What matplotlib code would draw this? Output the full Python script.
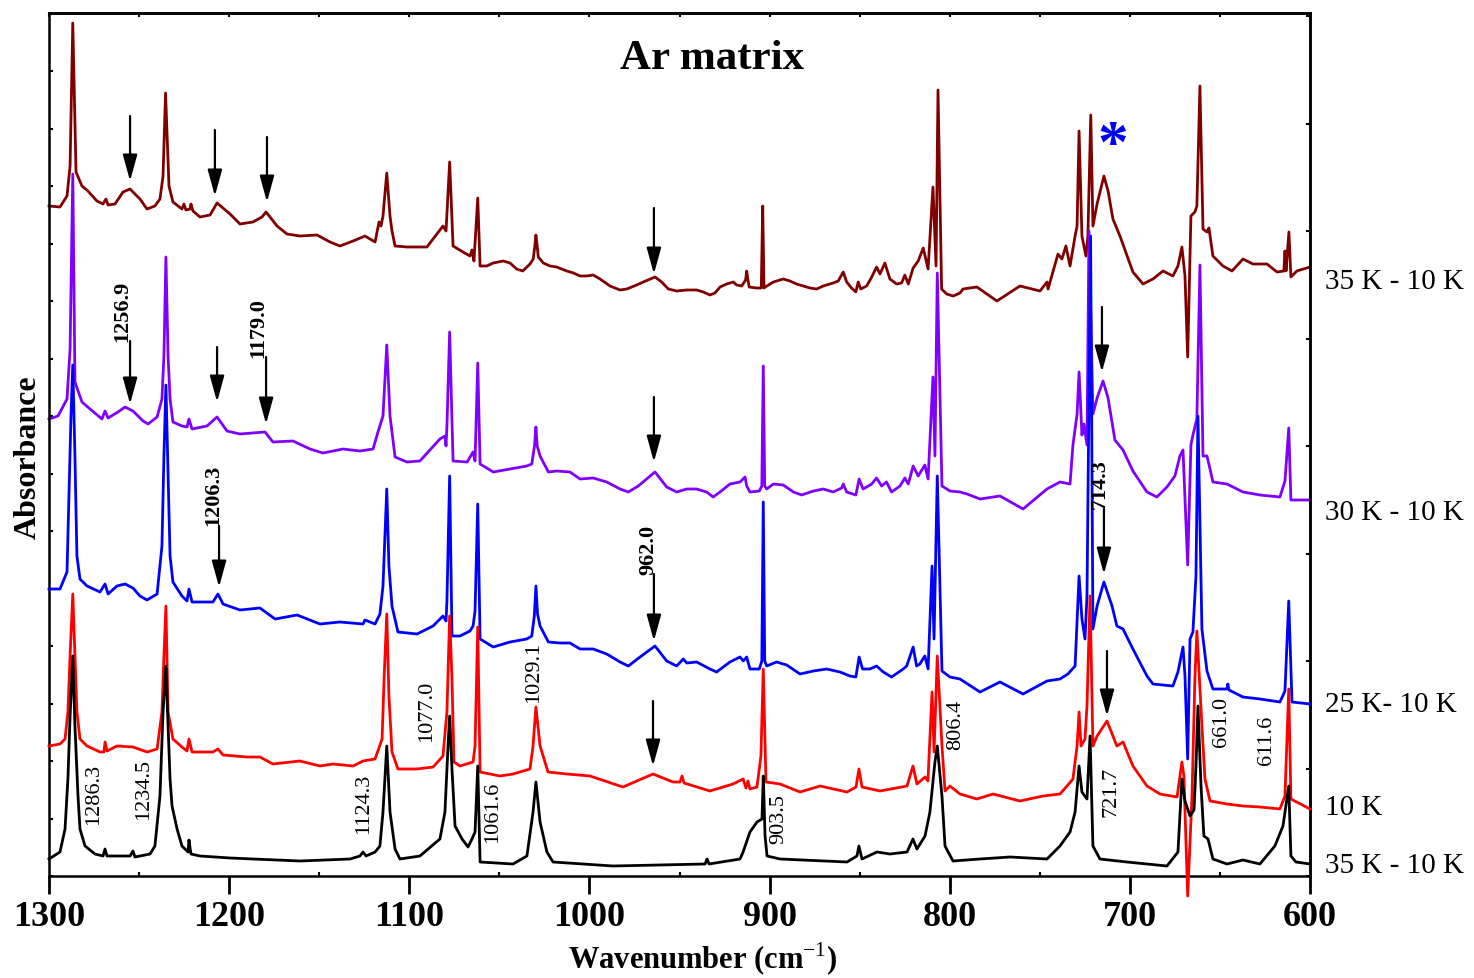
import numpy as np
import matplotlib
matplotlib.use("Agg")
import matplotlib.pyplot as plt

plt.rcParams['font.family'] = ['Liberation Serif', 'DejaVu Serif']
plt.rcParams['mathtext.fontset'] = 'custom'
plt.rcParams['mathtext.rm'] = 'Liberation Serif'
plt.rcParams['mathtext.bf'] = 'Liberation Serif:bold'

# spectra: (wavenumber cm-1, absorbance a.u.)
black = np.array([
    (1300.0, .017), (1293.9, .024), (1291.1, .047), (1289.5, .097), (1288.3, .160), (1286.8, .220),
    (1285.6, .150), (1283.9, .080), (1282.8, .047), (1280.0, .030), (1274.5, .022), (1270.0, .020),
    (1268.9, .027), (1267.8, .020), (1255.0, .020), (1253.4, .025), (1252.3, .019), (1243.9, .022),
    (1241.2, .030), (1238.4, .080), (1236.7, .164), (1235.1, .210), (1233.9, .150), (1232.8, .097),
    (1231.7, .070), (1228.9, .047), (1226.2, .030), (1222.8, .024), (1222.3, .036), (1221.2, .022),
    (1216.2, .020), (1199.5, .018), (1160.7, .015), (1132.9, .017), (1127.4, .020), (1125.7, .024),
    (1124.0, .020), (1119.0, .024), (1116.3, .030), (1114.6, .064), (1112.5, .130), (1110.7, .064),
    (1107.9, .027), (1105.2, .017), (1094.1, .020), (1083.0, .037), (1080.2, .064), (1078.5, .130),
    (1077.6, .160), (1076.3, .107), (1074.6, .050), (1070.7, .037), (1067.4, .029), (1065.2, .037),
    (1063.5, .044), (1062.0, .110), (1060.7, .014), (1042.4, .012), (1034.7, .020), (1031.3, .064),
    (1029.7, .094), (1027.4, .054), (1023.6, .024), (1020.2, .014), (986.9, .010), (935.8, .012),
    (934.7, .017), (933.6, .012), (916.4, .017), (914.7, .024), (910.9, .044), (907.0, .054),
    (904.2, .057), (903.5, .100), (902.5, .040), (901.4, .020), (894.2, .017), (857.0, .014),
    (851.5, .020), (850.4, .030), (848.7, .017), (840.4, .024), (833.2, .022), (823.7, .024),
    (820.4, .037), (818.2, .027), (813.7, .040), (811.0, .064), (808.2, .114), (806.9, .130),
    (804.3, .080), (802.6, .030), (798.2, .015), (783.2, .017), (766.5, .019), (746.0, .017),
    (738.8, .030), (733.2, .044), (730.4, .064), (728.2, .110), (726.6, .084), (723.8, .077),
    (722.1, .140), (720.5, .030), (716.6, .017), (701.6, .014), (679.4, .010), (673.3, .024),
    (671.1, .097), (669.4, .075), (666.6, .060), (664.4, .066), (663.3, .110), (662.2, .170),
    (660.5, .090), (658.9, .040), (656.6, .037), (653.9, .017), (646.1, .012), (637.2, .016),
    (627.8, .012), (619.5, .030), (615.0, .050), (611.8, .090), (610.6, .020), (607.8, .014),
    (600.0, .012)])

red = np.array([
    (1300.0, .130), (1293.9, .132), (1291.1, .137), (1289.5, .164), (1288.3, .220), (1286.8, .282),
    (1285.6, .220), (1284.5, .164), (1282.8, .137), (1278.9, .130), (1271.7, .124), (1269.5, .124),
    (1268.9, .134), (1267.8, .125), (1262.3, .130), (1253.4, .129), (1245.6, .124), (1240.0, .127),
    (1237.3, .164), (1236.2, .220), (1235.1, .270), (1233.9, .164), (1231.2, .137), (1226.2, .129),
    (1223.4, .125), (1222.3, .137), (1220.6, .124), (1209.0, .124), (1206.2, .127), (1203.4, .121),
    (1190.1, .119), (1182.9, .119), (1175.7, .112), (1160.7, .115), (1149.6, .110), (1142.4, .112),
    (1131.2, .110), (1125.7, .115), (1119.0, .117), (1115.1, .137), (1114.0, .197), (1112.5, .262),
    (1111.3, .180), (1109.6, .124), (1106.3, .107), (1095.7, .107), (1086.8, .109), (1081.3, .120),
    (1079.1, .164), (1077.6, .260), (1076.3, .197), (1075.2, .114), (1071.9, .110), (1064.6, .114),
    (1063.5, .130), (1062.0, .249), (1060.7, .104), (1049.6, .100), (1042.4, .102), (1033.0, .107),
    (1031.3, .130), (1029.7, .169), (1027.4, .130), (1023.0, .104), (1012.5, .102), (999.7, .100),
    (981.4, .089), (964.7, .102), (953.6, .094), (949.7, .094), (948.6, .100), (947.5, .093),
    (933.1, .085), (920.3, .092), (914.7, .097), (913.1, .088), (912.0, .095), (910.9, .087),
    (907.0, .089), (904.8, .120), (903.5, .207), (902.0, .094), (894.2, .092), (883.1, .084),
    (872.0, .090), (857.0, .084), (852.0, .089), (850.4, .107), (848.7, .089), (838.7, .085),
    (823.7, .090), (820.4, .110), (818.2, .092), (813.7, .099), (812.1, .095), (809.8, .184),
    (808.7, .124), (806.9, .220), (804.3, .130), (802.6, .085), (799.9, .090), (794.3, .082),
    (784.9, .077), (776.0, .082), (761.0, .075), (748.2, .080), (738.8, .082), (734.9, .090),
    (731.6, .097), (729.3, .130), (728.2, .164), (727.1, .130), (724.9, .137), (723.8, .170),
    (722.1, .280), (720.5, .130), (718.2, .140), (712.7, .155), (707.2, .130), (703.8, .134),
    (698.3, .110), (690.5, .090), (683.3, .082), (673.8, .079), (671.1, .114), (670.0, .100),
    (667.9, -.020), (665.5, .080), (663.9, .197), (662.8, .245), (660.0, .150), (658.3, .097),
    (655.5, .075), (646.1, .072), (637.2, .070), (627.8, .069), (616.7, .067), (613.9, .080),
    (611.8, .187), (610.6, .077), (600.0, .067)])

blue = np.array([
    (1300.0, .287), (1293.9, .287), (1290.0, .304), (1288.9, .380), (1287.8, .460), (1286.8, .511),
    (1285.6, .420), (1284.5, .320), (1282.8, .297), (1278.9, .290), (1271.7, .284), (1268.9, .292),
    (1267.2, .282), (1262.3, .290), (1257.8, .292), (1253.4, .288), (1249.5, .280), (1245.6, .276),
    (1240.0, .282), (1237.3, .330), (1236.2, .420), (1235.1, .491), (1233.9, .400), (1232.8, .320),
    (1231.2, .294), (1226.2, .280), (1223.4, .275), (1222.3, .287), (1220.6, .274), (1209.0, .274),
    (1206.2, .282), (1203.4, .272), (1194.0, .266), (1182.9, .268), (1174.5, .257), (1162.3, .261),
    (1149.6, .252), (1138.5, .254), (1125.7, .252), (1124.6, .256), (1119.0, .252), (1116.3, .262),
    (1114.6, .290), (1112.5, .387), (1111.3, .310), (1109.6, .270), (1106.3, .244), (1095.7, .242),
    (1086.8, .250), (1081.3, .260), (1079.6, .255), (1079.1, .275), (1077.6, .400), (1076.3, .240),
    (1071.9, .240), (1066.3, .245), (1064.6, .250), (1063.5, .265), (1062.0, .372), (1060.7, .237),
    (1053.4, .229), (1044.1, .234), (1034.8, .237), (1032.0, .240), (1030.6, .260), (1029.7, .290),
    (1028.8, .262), (1027.4, .250), (1022.8, .234), (1016.3, .233), (1010.8, .233), (1005.2, .227),
    (997.9, .227), (990.4, .222), (983.0, .214), (978.4, .210), (971.9, .219), (963.6, .230),
    (957.1, .215), (951.6, .210), (947.9, .217), (946.0, .213), (940.5, .214), (933.1, .207),
    (929.4, .204), (922.0, .214), (916.4, .219), (914.6, .215), (912.7, .219), (910.9, .207),
    (905.7, .207), (904.3, .215), (903.5, .374), (902.7, .215), (901.6, .210), (896.1, .214),
    (890.5, .211), (883.1, .202), (875.7, .205), (868.3, .207), (860.9, .204), (855.4, .200),
    (852.1, .199), (850.3, .219), (848.4, .207), (844.3, .207), (840.6, .210), (836.9, .204),
    (832.3, .199), (825.8, .207), (823.9, .210), (820.3, .229), (818.4, .210), (816.6, .212),
    (813.8, .220), (812.0, .207), (809.8, .310), (808.7, .237), (806.9, .400), (804.3, .205),
    (799.9, .199), (794.3, .197), (783.2, .184), (772.1, .194), (759.3, .182),
    (746.0, .195), (738.8, .197), (734.4, .202), (730.4, .210), (728.2, .300), (726.6, .257),
    (724.9, .237), (723.8, .280), (721.8, .640), (720.5, .247), (718.2, .270), (714.4, .294),
    (709.9, .270), (707.2, .250), (703.8, .247), (698.3, .227), (690.5, .200), (687.2, .192),
    (676.1, .190), (673.3, .204), (670.5, .229), (669.4, .200), (667.9, .117), (666.6, .237),
    (665.0, .244), (663.3, .300), (662.2, .460), (660.0, .247), (657.2, .205), (653.9, .187),
    (646.1, .187), (645.6, .192), (645.0, .186), (637.2, .179), (627.8, .177), (616.7, .174),
    (613.9, .185), (611.8, .275), (610.0, .174), (600.0, .172)])

purple = np.array([
    (1300.0, .457), (1295.0, .460), (1290.0, .477), (1288.3, .527), (1286.8, .702), (1285.6, .494),
    (1281.7, .474), (1277.2, .467), (1270.6, .457), (1268.9, .465), (1267.2, .458), (1261.7, .464),
    (1257.8, .469), (1253.4, .465), (1247.8, .455), (1245.0, .452), (1240.0, .459), (1237.3, .477),
    (1236.2, .520), (1235.1, .619), (1233.9, .520), (1232.8, .477), (1231.2, .454), (1226.2, .450),
    (1223.4, .449), (1222.3, .457), (1220.6, .447), (1212.3, .450), (1206.7, .459), (1201.2, .445),
    (1194.0, .442), (1180.1, .444), (1175.7, .434), (1164.6, .435), (1155.1, .427), (1147.9, .423),
    (1136.8, .427), (1127.4, .425), (1120.1, .427), (1117.4, .444), (1114.6, .460), (1112.5, .531),
    (1110.7, .460), (1107.9, .419), (1101.3, .414), (1094.1, .415), (1083.0, .437), (1080.2, .440),
    (1079.6, .430), (1079.1, .450), (1077.6, .544), (1075.7, .415), (1067.9, .414), (1064.6, .424),
    (1063.5, .415), (1062.0, .513), (1060.7, .412), (1053.4, .404), (1044.1, .407), (1034.8, .410),
    (1032.0, .412), (1030.5, .430), (1029.7, .449), (1029.0, .430), (1027.4, .420), (1022.8, .404),
    (1018.2, .405), (1010.8, .404), (1005.2, .397), (997.9, .398), (990.4, .394), (983.0, .387),
    (978.4, .384), (972.9, .390), (963.6, .404), (957.1, .389), (951.6, .384), (946.0, .387),
    (940.5, .387), (935.0, .384), (931.3, .379), (927.5, .384), (922.0, .392), (916.4, .394),
    (913.6, .399), (912.7, .390), (910.9, .384), (905.7, .385), (904.3, .390), (903.5, .510),
    (902.7, .390), (901.6, .387), (897.9, .392), (892.4, .391), (886.8, .384), (882.2, .381),
    (875.7, .385), (870.2, .387), (864.7, .384), (860.0, .388), (859.1, .392), (857.2, .384),
    (852.1, .381), (850.3, .397), (848.1, .387), (843.3, .392), (840.6, .398), (837.8, .390),
    (835.1, .394), (832.3, .384), (827.6, .390), (824.9, .398), (823.0, .392), (820.3, .410),
    (817.5, .400), (813.8, .411), (812.0, .397), (809.3, .499), (808.2, .420), (806.9, .603),
    (804.3, .390), (799.9, .385), (794.3, .384), (790.4, .382),
    (783.2, .377), (772.1, .380), (759.3, .367), (746.0, .387), (738.8, .394), (733.2, .392),
    (731.6, .431), (729.3, .462), (728.2, .504), (726.6, .441), (725.5, .452), (723.8, .431),
    (722.7, .645), (720.5, .462), (718.2, .478), (714.9, .495), (712.1, .478), (708.3, .436),
    (703.8, .426), (698.3, .405), (690.5, .384), (685.0, .379), (679.4, .389), (675.0, .400),
    (672.2, .420), (670.5, .426), (667.9, .311), (666.1, .431), (665.0, .441), (662.8, .457),
    (661.1, .611), (659.4, .420), (657.2, .420), (655.5, .407), (653.9, .394), (646.1, .392),
    (637.2, .384), (627.8, .381), (616.7, .379), (613.9, .395), (611.8, .448), (610.6, .376),
    (600.0, .376)])

darkred = np.array([
    (1300.0, .670), (1293.9, .669), (1290.0, .680), (1288.3, .710), (1286.8, .853), (1285.0, .704),
    (1281.7, .690), (1278.4, .685), (1273.4, .675), (1270.0, .672), (1268.4, .677), (1267.2, .671),
    (1263.4, .672), (1258.9, .684), (1255.0, .687), (1252.3, .682), (1249.5, .677), (1245.6, .667),
    (1241.2, .670), (1238.4, .677), (1236.7, .700), (1235.3, .783), (1233.4, .690), (1231.2, .674),
    (1226.2, .667), (1225.1, .672), (1224.0, .666), (1221.7, .667), (1221.2, .672), (1220.1, .665),
    (1216.2, .659), (1210.6, .661), (1206.7, .673), (1199.5, .662), (1194.0, .652), (1186.8, .654),
    (1181.8, .659), (1179.5, .664), (1173.4, .650), (1167.9, .642), (1160.7, .640), (1151.2, .641),
    (1144.0, .634), (1138.5, .630), (1131.2, .635), (1124.6, .640), (1119.0, .634), (1116.8, .654),
    (1115.7, .650), (1114.6, .660), (1112.5, .703), (1110.7, .660), (1109.6, .645), (1107.9, .630),
    (1101.3, .629), (1090.2, .629), (1086.8, .637), (1081.3, .650), (1079.6, .645), (1077.6, .714),
    (1075.7, .630), (1070.2, .624), (1066.3, .620), (1065.2, .626), (1064.1, .615), (1062.0, .678),
    (1060.7, .610), (1057.0, .610), (1053.4, .613), (1047.8, .615), (1044.1, .613), (1040.4, .607),
    (1037.0, .605), (1033.0, .612), (1031.2, .617), (1030.3, .630), (1029.7, .641), (1029.0, .630),
    (1028.4, .619), (1025.6, .613), (1021.9, .610), (1018.2, .609), (1012.6, .605), (1008.9, .603),
    (1005.2, .600), (1001.5, .600), (997.9, .601), (994.1, .597), (988.6, .590), (983.0, .586),
    (979.3, .587), (973.8, .591), (970.1, .594), (963.6, .599), (959.9, .594), (956.2, .587),
    (951.6, .585), (946.0, .586), (940.5, .586), (936.8, .584), (933.1, .581), (930.3, .583),
    (927.5, .589), (923.8, .592), (920.1, .594), (918.3, .591), (915.5, .590), (913.3, .596),
    (912.7, .605), (912.0, .596), (911.3, .589), (907.2, .588), (904.6, .588), (903.8, .670),
    (903.1, .588), (902.4, .589), (897.9, .594), (892.4, .597), (888.7, .595), (885.0, .592),
    (881.3, .590), (877.6, .588), (873.9, .587), (870.2, .590), (864.7, .593), (861.9, .595),
    (859.1, .604), (857.2, .594), (854.5, .588), (852.1, .584), (850.8, .594), (849.4, .587),
    (846.1, .590), (843.3, .599), (840.6, .609), (838.7, .602), (836.0, .613), (833.2, .597),
    (829.5, .592), (826.7, .593), (824.9, .601), (823.0, .592), (820.3, .608), (817.5, .615),
    (814.7, .628), (812.0, .607), (809.3, .689), (807.6, .610), (806.5, .786), (804.5, .587),
    (801.7, .582), (798.1, .580), (794.3, .583), (792.6, .587), (784.9, .589), (773.8, .575),
    (761.0, .590), (749.9, .585), (746.0, .594), (745.4, .587), (739.9, .622), (737.7, .617),
    (735.5, .630), (733.2, .610), (730.4, .640), (729.3, .650), (728.2, .745), (726.6, .640),
    (724.4, .620), (723.3, .640), (721.7, .761), (720.5, .650), (718.2, .672), (714.4, .700),
    (712.1, .685), (709.4, .657), (705.5, .640), (698.3, .604), (692.7, .592), (687.2, .597),
    (681.6, .605), (676.1, .600), (673.3, .610), (671.1, .629), (669.4, .600), (667.9, .519),
    (666.1, .660), (663.9, .664), (662.8, .670), (661.1, .790), (659.4, .647), (657.2, .644),
    (656.1, .648), (653.9, .620), (648.3, .610), (643.3, .605), (637.2, .617), (631.7, .612),
    (623.9, .612), (618.3, .604), (614.5, .605), (613.9, .625), (613.3, .605), (611.7, .644),
    (610.6, .599), (607.3, .605), (600.0, .609)])

traces = [(darkred, '#800000'), (purple, '#8000ff'), (blue, '#0000ff'), (red, '#ff0000'), (black, '#000000')]
right_labels = ['35 K - 10 K', '30 K - 10 K', '25 K- 10 K', '10 K', '35 K - 10 K']
right_label_y = [0.595, 0.364, 0.172, 0.069, 0.011]

# plain peak labels (text, wavenumber, absorbance)
peak_labels = [('1286.3', 1275.0, .083), ('1234.5', 1247.3, .088), ('1124.3', 1125.1, .073),
               ('1077.0', 1090.2, .166), ('1061.6', 1053.5, .065), ('1029.1', 1030.8, .205),
               ('903.5', 894.8, .058), ('806.4', 796.5, .152), ('721.7', 710.5, .085),
               ('661.0', 649.4, .155), ('611.6', 624.4, .137)]
# bold labels with an arrow: text, text x, text y, arrow x, arrow start, arrow tip
arrow_labels = [('1256.9', 1259.5, .566, 1255.0, .535, .472),
                ('1179.0', 1184.0, .549, 1179.5, .519, .452),
                ('1206.3', 1209.0, .382, 1205.6, .350, .289),
                ('962.0', 967.5, .327, 964.2, .302, .235),
                ('714.3', 716.6, .393, 714.4, .367, .302)]
# arrows without labels: x, start, tip
arrows = [(1255.0, .760, .695), (1207.9, .746, .680), (1179.0, .739, .674), (964.2, .668, .602),
          (1206.7, .529, .474), (964.2, .479, .414), (715.5, .569, .504),
          (964.7, .175, .110), (712.7, .225, .160)]

fig = plt.figure(figsize=(14.74, 9.79), dpi=100)
ax = fig.add_axes([49/1474, 1 - 877/979, 1261/1474, 863/979])

for z, (arr, col) in enumerate(traces):
    ax.plot(arr[:, 0], arr[:, 1], color=col, lw=2.0, zorder=z + 1, clip_on=False,
            solid_joinstyle='round')

ax.set_xlim(1300, 600)
ax.set_ylim(0, 0.863)

arrow_style = '-|>,head_length=0.8,head_width=0.22'
for x, y0, y1 in arrows:
    ax.annotate('', xy=(x, y1), xytext=(x, y0), zorder=10,
                arrowprops=dict(arrowstyle=arrow_style, mutation_scale=20, lw=1.6,
                                color='k', shrinkA=0, shrinkB=0))
for s, tx, ty, x, y0, y1 in arrow_labels:
    ax.text(tx, ty, s, rotation=90, ha='center', va='center', fontsize=16, fontweight='bold', zorder=10)
    ax.annotate('', xy=(x, y1), xytext=(x, y0), zorder=10,
                arrowprops=dict(arrowstyle=arrow_style, mutation_scale=20, lw=1.6,
                                color='k', shrinkA=0, shrinkB=0))
for s, x, y in peak_labels:
    ax.text(x, y, s, rotation=90, ha='center', va='center', fontsize=16, zorder=10)

ax.text(932, 0.818, 'Ar matrix', ha='center', va='center', fontsize=31, fontweight='bold')
ax.text(709.4, 0.730, '*', ha='center', va='center', fontsize=44, fontweight='bold', color='#0000ff')

for s, y in zip(right_labels, right_label_y):
    ax.text(1.012, y, s, transform=ax.get_yaxis_transform(), ha='left', va='center', fontsize=21)

ax.set_xticks(np.arange(600, 1301, 100))
ax.set_xticks(np.arange(650, 1300, 100), minor=True)
ax.tick_params(axis='x', which='major', direction='out', length=13, width=2, labelsize=26, pad=4)
ax.tick_params(axis='x', which='minor', direction='in', length=3, width=1.5)
for lab in ax.get_xticklabels():
    lab.set_fontweight('bold')
ax.set_yticks(np.arange(0, 0.864, 0.0575))
ax.tick_params(axis='y', direction='in', length=3, width=1.5, labelleft=False)

top = ax.secondary_xaxis('top')
top.set_xticks(np.arange(600, 1301, 50))
top.tick_params(direction='in', length=3, width=1.5, labeltop=False)
right = ax.secondary_yaxis('right')
right.set_yticks(np.arange(0, 0.87, 0.1075))
right.tick_params(direction='in', length=3, width=1.5, labelright=False)
for sp in list(ax.spines.values()) + list(top.spines.values()) + list(right.spines.values()):
    sp.set_linewidth(1.8)

ax.set_xlabel(r'Wavenumber (cm$^{-1}$)', fontsize=22, fontweight='bold', va='center')
ax.xaxis.set_label_coords(0.518, -0.096)
ax.set_ylabel('Absorbance', fontsize=23, fontweight='bold', ha='center', va='center')
ax.yaxis.set_label_coords(-0.0167, 0.486)

fig.savefig('out.png', dpi=100)
